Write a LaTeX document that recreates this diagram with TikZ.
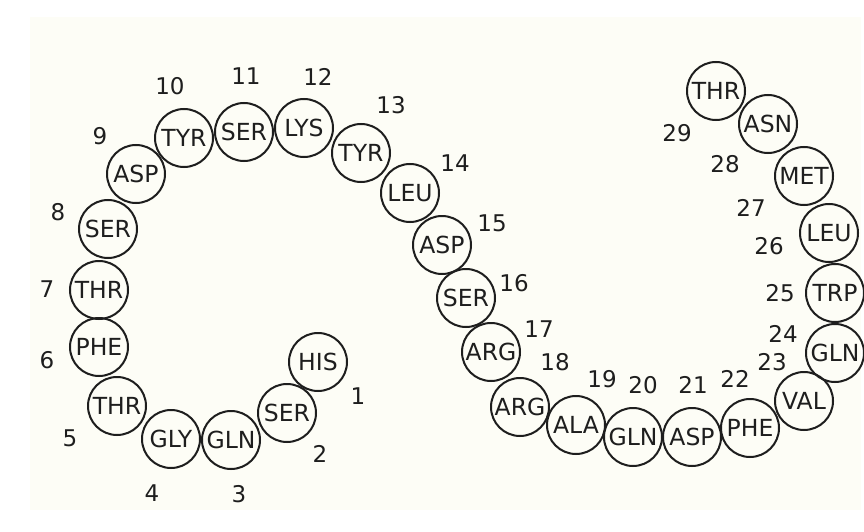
\documentclass[tikz,border=0pt]{standalone}
\usepackage{fontspec}
\setmainfont{DejaVu Sans}
\definecolor{paper}{HTML}{FDFDF6}
\definecolor{ink}{HTML}{1E1E1E}
\begin{document}
\begin{tikzpicture}[x=1pt,y=-1pt,
  res/.style={circle,draw=ink,line width=2pt,minimum size=58pt,inner sep=0pt,
    font=\fontsize{23.5}{26}\selectfont,text=ink},
  num/.style={inner sep=0pt,font=\fontsize{23}{26}\selectfont,text=ink}]
  % page and paper area
  \fill[white] (0,0) rectangle (864,532);
  \fill[paper] (30,17) rectangle (861,510);
  \useasboundingbox (0,0) rectangle (864,532);
  % residues of the first turn
  \node[res] (r1)  at (318,362) {HIS};
  \node[res] (r2)  at (287,413) {SER};
  \node[res] (r3)  at (231,440) {GLN};
  \node[res] (r4)  at (171,439) {GLY};
  \node[res] (r5)  at (117,406) {THR};
  \node[res] (r6)  at (99,347)  {PHE};
  \node[res] (r7)  at (99,290)  {THR};
  \node[res] (r8)  at (108,229) {SER};
  \node[res] (r9)  at (136,174) {ASP};
  \node[res] (r10) at (184,138) {TYR};
  \node[res] (r11) at (244,132) {SER};
  \node[res] (r12) at (304,128) {LYS};
  \node[res] (r13) at (361,153) {TYR};
  \node[res] (r14) at (410,193) {LEU};
  \node[res] (r15) at (442,245) {ASP};
  \node[res] (r16) at (466,298) {SER};
  \node[res] (r17) at (491,352) {ARG};
  \node[res] (r18) at (520,407) {ARG};
  \node[res] (r19) at (576,425) {ALA};
  \node[res] (r20) at (633,437) {GLN};
  \node[res] (r21) at (692,437) {ASP};
  \node[res] (r22) at (750,428) {PHE};
  \node[res] (r23) at (804,401) {VAL};
  \node[res] (r24) at (835,353) {GLN};
  \node[res] (r25) at (835,293) {TRP};
  \node[res] (r26) at (829,233) {LEU};
  \node[res] (r27) at (804,176) {MET};
  \node[res] (r28) at (768,124) {ASN};
  \node[res] (r29) at (716,91)  {THR};
  % sequence numbers
  \node[num] (n1)  at (358,396) {1};
  \node[num] (n2)  at (320,454) {2};
  \node[num] (n3)  at (239,494) {3};
  \node[num] (n4)  at (152,493) {4};
  \node[num] (n5)  at (70,438)  {5};
  \node[num] (n6)  at (47,360)  {6};
  \node[num] (n7)  at (47,289)  {7};
  \node[num] (n8)  at (58,212)  {8};
  \node[num] (n9)  at (100,136) {9};
  \node[num] (n10) at (170,86)  {10};
  \node[num] (n11) at (246,76)  {11};
  \node[num] (n12) at (318,77)  {12};
  \node[num] (n13) at (391,105) {13};
  \node[num] (n14) at (455,163) {14};
  \node[num] (n15) at (492,223) {15};
  \node[num] (n16) at (514,283) {16};
  \node[num] (n17) at (539,329) {17};
  \node[num] (n18) at (555,362) {18};
  \node[num] (n19) at (602,379) {19};
  \node[num] (n20) at (643,385) {20};
  \node[num] (n21) at (693,385) {21};
  \node[num] (n22) at (735,379) {22};
  \node[num] (n23) at (772,362) {23};
  \node[num] (n24) at (783,334) {24};
  \node[num] (n25) at (780,293) {25};
  \node[num] (n26) at (769,246) {26};
  \node[num] (n27) at (751,208) {27};
  \node[num] (n28) at (725,164) {28};
  \node[num] (n29) at (677,133) {29};
\end{tikzpicture}
\end{document}
